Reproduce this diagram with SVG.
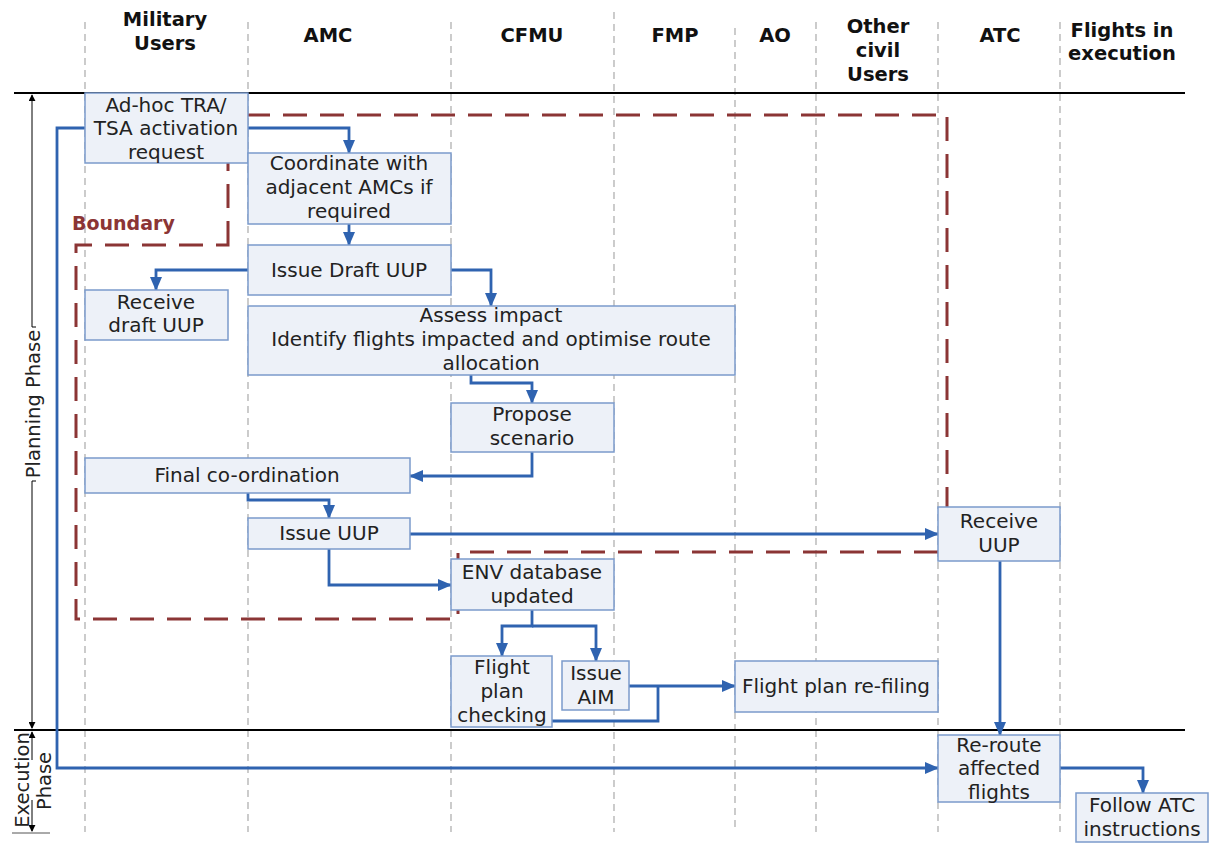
<svg xmlns="http://www.w3.org/2000/svg" width="1211" height="843" viewBox="0 0 1211 843">
<defs>
<marker id="ah" viewBox="0 0 14 12" refX="13" refY="6" markerWidth="14" markerHeight="12" markerUnits="userSpaceOnUse" orient="auto"><path d="M0,0 L14,6 L0,12 z" fill="#2f63b0"/></marker>
<marker id="bk" viewBox="0 0 8 8" refX="7" refY="4" markerWidth="7" markerHeight="7" markerUnits="userSpaceOnUse" orient="auto"><path d="M0,0 L8,4 L0,8 z" fill="#000"/></marker>
</defs>
<style>
.lane{stroke:#aaaaaa;stroke-width:1.2;stroke-dasharray:7 5;fill:none}
.hdr{font-family:"DejaVu Sans",Verdana,sans-serif;font-size:19.5px;font-weight:bold;fill:#111;text-anchor:middle}
.box{fill:#edf1f8;stroke:#7b9acb;stroke-width:1.5}
.t{font-family:"DejaVu Sans",Verdana,sans-serif;font-size:20px;fill:#222;text-anchor:middle}
.c{fill:none;stroke:#2f63b0;stroke-width:2.8}
.ca{fill:none;stroke:#2f63b0;stroke-width:2.8;marker-end:url(#ah)}
.bnd{fill:none;stroke:#8b3535;stroke-width:3;stroke-dasharray:24 13}
.ph{font-family:"DejaVu Sans",Verdana,sans-serif;font-size:19.5px;fill:#222;text-anchor:middle}
</style>
<rect width="1211" height="843" fill="#fff"/>
<g id="lanes">
<line class="lane" x1="85" y1="22" x2="85" y2="832"/>
<line class="lane" x1="248" y1="22" x2="248" y2="832"/>
<line class="lane" x1="451" y1="22" x2="451" y2="832"/>
<line class="lane" x1="614" y1="12" x2="614" y2="832"/>
<line class="lane" x1="735" y1="28" x2="735" y2="832"/>
<line class="lane" x1="816" y1="22" x2="816" y2="832"/>
<line class="lane" x1="938" y1="22" x2="938" y2="832"/>
<line class="lane" x1="1060" y1="22" x2="1060" y2="832"/>
</g>
<g id="headers">
<text class="hdr" x="165" y="26">Military</text>
<text class="hdr" x="165" y="50">Users</text>
<text class="hdr" x="328" y="42">AMC</text>
<text class="hdr" x="532" y="42">CFMU</text>
<text class="hdr" x="675" y="42">FMP</text>
<text class="hdr" x="775" y="42">AO</text>
<text class="hdr" x="878" y="33">Other</text>
<text class="hdr" x="878" y="57">civil</text>
<text class="hdr" x="878" y="81">Users</text>
<text class="hdr" x="1000" y="42">ATC</text>
<text class="hdr" x="1122" y="37">Flights in</text>
<text class="hdr" x="1122" y="60">execution</text>
</g>
<g id="phases">
<line x1="14" y1="93" x2="1185" y2="93" stroke="#000" stroke-width="2.2"/>
<line x1="14" y1="730" x2="1185" y2="730" stroke="#000" stroke-width="2.2"/>
<line x1="12" y1="833" x2="50" y2="833" stroke="#555" stroke-width="1"/>
<line x1="32" y1="327" x2="32" y2="95" stroke="#000" stroke-width="1" marker-end="url(#bk)"/>
<line x1="32" y1="481" x2="32" y2="728" stroke="#000" stroke-width="1" marker-end="url(#bk)"/>
<line x1="32" y1="327" x2="36" y2="327" stroke="#000" stroke-width="1"/>
<line x1="32" y1="481" x2="36" y2="481" stroke="#000" stroke-width="1"/>
<text class="ph" transform="translate(40,404) rotate(-90)">Planning Phase</text>
<line x1="32" y1="760" x2="32" y2="732" stroke="#000" stroke-width="1" marker-end="url(#bk)"/>
<line x1="32" y1="800" x2="32" y2="831" stroke="#000" stroke-width="1" marker-end="url(#bk)"/>
<text class="ph" transform="translate(29,780) rotate(-90)">Execution</text>
<text class="ph" transform="translate(51,781) rotate(-90)">Phase</text>
</g>
<g id="boundary">
<path class="bnd" d="M228,245 L228,115 L947,115 L947,552 L458,552 L458,619 L76,619 L76,245 Z"/>
<text x="72" y="230" font-family="DejaVu Sans,Verdana,sans-serif" font-size="19" font-weight="bold" fill="#8b3535">Boundary</text>
</g>
<g id="connectors">
<path class="ca" d="M248,128 H349 V153"/>
<path class="ca" d="M349,224 V245"/>
<path class="ca" d="M248,270 H156 V290"/>
<path class="ca" d="M451,270 H491 V306"/>
<path class="ca" d="M471,375 V383 H532 V403"/>
<path class="ca" d="M532,452 V476 H410"/>
<path class="ca" d="M248,493 V500 H329 V518"/>
<path class="ca" d="M410,534 H938"/>
<path class="ca" d="M329,549 V585 H451"/>
<path class="ca" d="M532,610 V626 H502 V656"/>
<path class="ca" d="M532,626 H596 V661"/>
<path class="ca" d="M629,686 H735"/>
<path class="c" d="M552,721 H658 V686"/>
<path class="ca" d="M1000,561 V735"/>
<path class="ca" d="M85,128 H57 V768 H938"/>
<path class="ca" d="M1060,768 H1143 V793"/>
</g>
<g id="n-adhoc"><rect class="box" x="85" y="93" width="163" height="70"/>
<text class="t" x="166" y="112">Ad-hoc TRA/</text><text class="t" x="166" y="135">TSA activation</text><text class="t" x="166" y="159">request</text></g>
<g id="n-coord"><rect class="box" x="248" y="153" width="203" height="71"/>
<text class="t" x="349" y="170">Coordinate with</text><text class="t" x="349" y="194">adjacent AMCs if</text><text class="t" x="349" y="218">required</text></g>
<g id="n-draft"><rect class="box" x="248" y="245" width="203" height="50"/>
<text class="t" x="349" y="277">Issue Draft UUP</text></g>
<g id="n-recdraft"><rect class="box" x="85" y="290" width="143" height="50"/>
<text class="t" x="156" y="309">Receive</text><text class="t" x="156" y="332">draft UUP</text></g>
<g id="n-assess"><rect class="box" x="248" y="306" width="487" height="69"/>
<text class="t" x="491" y="322">Assess impact</text><text class="t" x="491" y="346">Identify flights impacted and optimise route</text><text class="t" x="491" y="370">allocation</text></g>
<g id="n-propose"><rect class="box" x="451" y="403" width="163" height="49"/>
<text class="t" x="532" y="421">Propose</text><text class="t" x="532" y="445">scenario</text></g>
<g id="n-final"><rect class="box" x="85" y="458" width="325" height="35"/>
<text class="t" x="247" y="482">Final co-ordination</text></g>
<g id="n-issueuup"><rect class="box" x="248" y="518" width="162" height="31"/>
<text class="t" x="329" y="540">Issue UUP</text></g>
<g id="n-recuup"><rect class="box" x="938" y="507" width="122" height="54"/>
<text class="t" x="999" y="528">Receive</text><text class="t" x="999" y="552">UUP</text></g>
<g id="n-env"><rect class="box" x="451" y="559" width="163" height="51"/>
<text class="t" x="532" y="579">ENV database</text><text class="t" x="532" y="603">updated</text></g>
<g id="n-fpc"><rect class="box" x="451" y="656" width="101" height="71"/>
<text class="t" x="502" y="674">Flight</text><text class="t" x="502" y="698">plan</text><text class="t" x="502" y="722">checking</text></g>
<g id="n-aim"><rect class="box" x="562" y="661" width="67" height="49"/>
<text class="t" x="596" y="680">Issue</text><text class="t" x="596" y="704">AIM</text></g>
<g id="n-refile"><rect class="box" x="735" y="661" width="203" height="51"/>
<text class="t" x="836" y="693">Flight plan re-filing</text></g>
<g id="n-reroute"><rect class="box" x="938" y="735" width="122" height="67"/>
<text class="t" x="999" y="752">Re-route</text><text class="t" x="999" y="775">affected</text><text class="t" x="999" y="799">flights</text></g>
<g id="n-follow"><rect class="box" x="1076" y="793" width="132" height="49"/>
<text class="t" x="1142" y="812">Follow ATC</text><text class="t" x="1142" y="836">instructions</text></g>
</svg>
